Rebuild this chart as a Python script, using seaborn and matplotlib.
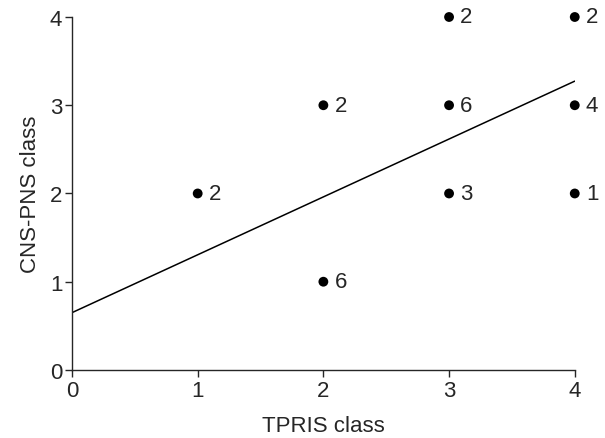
import numpy as np
import pandas as pd
import matplotlib
matplotlib.use("Agg")
import matplotlib.pyplot as plt
import seaborn as sns

# TPRIS class vs CNS-PNS class, with number of cases at each point
tpris = [1, 2, 2, 3, 3, 3, 4, 4, 4]
cnspns = [2, 3, 1, 4, 3, 2, 4, 3, 2]
counts = [2, 2, 6, 2, 6, 3, 2, 4, 1]

df = pd.DataFrame({"TPRIS class": tpris, "CNS-PNS class": cnspns, "n": counts})

# least squares line over all cases
xs = np.repeat(df["TPRIS class"].values, df["n"].values)
ys = np.repeat(df["CNS-PNS class"].values, df["n"].values)
slope, icpt = np.polyfit(xs, ys, 1)
fit = pd.DataFrame({"x": [0, 4]})
fit["y"] = icpt + slope * fit["x"]

sns.set_style("ticks")
plt.rcParams["font.family"] = ["Liberation Sans", "DejaVu Sans"]

fig = plt.figure(figsize=(6.05, 4.39), dpi=100)
ax = fig.add_axes([0.119, 0.155, 0.831, 0.804])

sns.lineplot(data=fit, x="x", y="y", color="black", linewidth=1.1, ax=ax)
sns.scatterplot(data=df, x="TPRIS class", y="CNS-PNS class", color="black",
                s=50, edgecolor="none", ax=ax, zorder=3, clip_on=False)
for _, r in df.iterrows():
    ax.annotate(str(r["n"]), (r["TPRIS class"], r["CNS-PNS class"]),
                xytext=(8, 0), textcoords="offset points", va="center",
                ha="left", fontsize=16, annotation_clip=False)

ax.set_xlim(0, 4)
ax.set_ylim(0, 4)
ax.set_xticks(range(5))
ax.set_yticks(range(5))
ax.tick_params(labelsize=16, length=5, width=1, pad=2)
ax.set_xlabel("TPRIS class", fontsize=16, labelpad=10)
ax.set_ylabel("CNS-PNS class", fontsize=16, labelpad=6)
sns.despine(ax=ax)
for sp in ax.spines.values():
    sp.set_linewidth(1)

fig.savefig("out.png", dpi=100)
